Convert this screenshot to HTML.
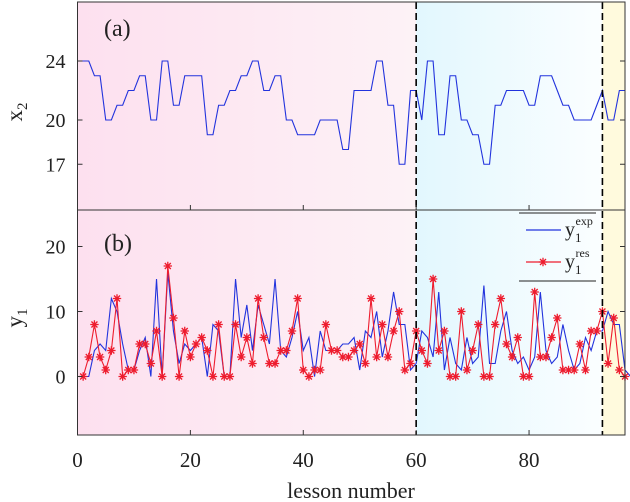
<!DOCTYPE html>
<html><head><meta charset="utf-8"><style>
body{margin:0;background:#fff;}
svg{display:block;}
svg text{font-family:"Liberation Serif","Times New Roman",serif;}
</style></head><body>
<svg id="chart" width="630" height="502" viewBox="0 0 630 502" xmlns="http://www.w3.org/2000/svg">
<defs>
<linearGradient id="gp" x1="0" x2="1" y1="0" y2="0"><stop offset="0" stop-color="#fde0ef"/><stop offset="1" stop-color="#fdf2f6"/></linearGradient>
<linearGradient id="gb" x1="0" x2="1" y1="0" y2="0"><stop offset="0" stop-color="#e2f7fe"/><stop offset="1" stop-color="#fbfeff"/></linearGradient>
</defs>
<g id="bg"></g>
<g id="marks"></g>
<g id="axes"></g>
</svg>
<script>
const xIdxTop = Array.from({length:98},(_, i)=>i);
const x2Values = [24,24,24,23,23,20,20,21,21,22,22,23,23,20,20,24,24,21,21,23,23,23,23,19,19,21,21,22,22,23,23,24,24,22,22,23,23,20,20,19,19,19,19,20,20,20,20,18,18,22,22,22,22,24,24,21,21,17,17,22,22,20,24,24,19,19,23,23,20,20,19,19,17,17,21,21,22,22,22,22,21,21,23,23,23,22,21,21,20,20,20,20,21,22,20,20,22,22];
const yExp = [0,0,4,5,4,12,10,5,1,1,4,6,0,15,0,16,7,2,5,4,5,6,0,8,7,0,0,15,6,11,4,11,8,5,15,4,3,6,10,4,6,0,7,4,4,4,5,5,6,1,7,6,10,3,7,13,8,8,1,2,7,6,3,13,1,6,2,1,6,2,3,14,2,2,7,10,4,2,3,1,3,13,4,2,3,8,4,1,2,6,4,7,7,10,8,8,1,0];
const yRes = [0,3,8,3,1,4,12,0,1,1,5,5,2,7,0,17,9,0,7,3,5,6,4,0,8,0,0,8,3,6,2,12,6,2,2,4,4,7,12,1,0,1,1,8,4,4,3,3,4,5,2,12,3,8,3,7,10,1,2,7,4,2,15,4,7,0,0,10,1,4,8,0,0,8,12,5,3,6,0,0,13,3,3,6,9,1,1,1,5,1,7,7,10,2,9,1,0];
const xTicks = [0,20,40,60,80];
const topTicks = [17,20,24];
const botTicks = [0,10,20];
const regionBounds = [60,93];

const L=77.5,R=625,XMAX=97;
const sx=v=>L+(R-L)*v/XMAX;
const T0=2,T1=210,B0=210,B1=435;
const syT=v=>120-(v-20)*14.75;
const syB=v=>376.5-v*6.5;
const NS="http://www.w3.org/2000/svg";
const FF='"Liberation Serif", serif';
function mk(tag,attrs,parent,name){const e=document.createElementNS(NS,tag);for(const k in attrs)e.setAttribute(k,attrs[k]);parent.appendChild(e);


return e;}
const bg=document.getElementById('bg'),mg=document.getElementById('marks'),ax=document.getElementById('axes');
mk('rect',{x:L,y:T0,width:sx(regionBounds[0])-L,height:B1-T0,fill:'url(#gp)'},bg,'region-pink');
mk('rect',{x:sx(regionBounds[0]),y:T0,width:sx(regionBounds[1])-sx(regionBounds[0]),height:B1-T0,fill:'url(#gb)'},bg,'region-blue');
mk('rect',{x:sx(regionBounds[1]),y:T0,width:R-sx(regionBounds[1]),height:B1-T0,fill:'#fffadd'},bg,'region-yellow');
mk('polyline',{points:x2Values.map((v,i)=>sx(xIdxTop[i])+','+syT(v)).join(' '),fill:'none',stroke:'#2233dd','stroke-width':1.1},mg,'x2-line');
mk('polyline',{points:yExp.map((v,i)=>sx(i+1)+','+syB(v)).join(' '),fill:'none',stroke:'#2233dd','stroke-width':1.1},mg,'y1-exp-line');
mk('polyline',{points:yRes.map((v,i)=>sx(i+1)+','+syB(v)).join(' '),fill:'none',stroke:'#ee1c2e','stroke-width':1.1},mg,'y1-res-line');
function star(cx,cy,g,name){const r=4.2,d=3;
const p=`M${cx-r},${cy}L${cx+r},${cy}M${cx},${cy-r}L${cx},${cy+r}M${cx-d},${cy-d}L${cx+d},${cy+d}M${cx-d},${cy+d}L${cx+d},${cy-d}`;
mk('path',{d:p,stroke:'#ee1c2e','stroke-width':1.3,fill:'none'},g,name);}
yRes.forEach((v,i)=>star(sx(i+1),syB(v),mg,'y1-res-marker'));
regionBounds.forEach(b=>mk('line',{x1:sx(b),x2:sx(b),y1:T0,y2:B1,stroke:'#000','stroke-width':1.6,'stroke-dasharray':'7,4'},ax,'region-divider'));
mk('rect',{x:L,y:T0,width:R-L,height:T1-T0,fill:'none',stroke:'#333','stroke-width':1},ax,'top-frame');
mk('rect',{x:L,y:B0,width:R-L,height:B1-B0,fill:'none',stroke:'#333','stroke-width':1},ax,'bottom-frame');
function txt(x,y,s,size,name,anchor){const t=mk('text',{x:x,y:y,'font-size':size,'text-anchor':anchor||'middle',fill:'#222','font-family':FF},ax,name);t.textContent=s;return t;}
topTicks.forEach(v=>{const y=syT(v);mk('line',{x1:L,x2:L+5,y1:y,y2:y,stroke:'#333'},ax,'top-y-tick');mk('line',{x1:R-5,x2:R,y1:y,y2:y,stroke:'#333'},ax,'top-y-tick-right');txt(L-12,y+7,String(v),20,'top-y-tick-label','end');});
botTicks.forEach(v=>{const y=syB(v);mk('line',{x1:L,x2:L+5,y1:y,y2:y,stroke:'#333'},ax,'bottom-y-tick');mk('line',{x1:R-5,x2:R,y1:y,y2:y,stroke:'#333'},ax,'bottom-y-tick-right');txt(L-12,y+7,String(v),20,'bottom-y-tick-label','end');});
xTicks.forEach(v=>{const x=sx(v);mk('line',{x1:x,x2:x,y1:B1,y2:B1-5,stroke:'#333'},ax,'x-tick');mk('line',{x1:x,x2:x,y1:T1,y2:T1-5,stroke:'#333'},ax,'x-tick-top');txt(x,467,String(v),21,'x-tick-label');});
txt(351,498,'lesson number',22,'x-axis-title');
txt(104,36,'(a)',24,'panel-a-label','start');
txt(104,251,'(b)',24,'panel-b-label','start');
const yl1=txt(0,0,'',23,'top-y-axis-title');yl1.setAttribute('transform','translate(22,112) rotate(-90)');yl1.innerHTML='x<tspan font-size="15" dy="5">2</tspan>';
const yl2=txt(0,0,'',23,'bottom-y-axis-title');yl2.setAttribute('transform','translate(22,318) rotate(-90)');yl2.innerHTML='y<tspan font-size="15" dy="5">1</tspan>';
const lg=mk('g',{},ax,'legend');
mk('line',{x1:519,x2:596,y1:213,y2:213,stroke:'#222'},lg,'legend-top-rule');
mk('line',{x1:519,x2:596,y1:281,y2:281,stroke:'#222'},lg,'legend-bottom-rule');
mk('line',{x1:526,x2:561,y1:230,y2:230,stroke:'#2233dd','stroke-width':1.2},lg,'legend-exp-line');
mk('line',{x1:526,x2:561,y1:262,y2:262,stroke:'#ee1c2e','stroke-width':1.2},lg,'legend-res-line');
star(543,262,lg,'legend-res-marker');
const l1=mk('text',{x:565,y:236,'font-size':20,fill:'#222','font-family':FF},lg,'legend-exp-label');l1.innerHTML='y<tspan font-size="13" dy="6">1</tspan><tspan font-size="12" dx="-6" dy="-17">exp</tspan>';
const l2=mk('text',{x:565,y:268,'font-size':20,fill:'#222','font-family':FF},lg,'legend-res-label');l2.innerHTML='y<tspan font-size="13" dy="6">1</tspan><tspan font-size="12" dx="-6" dy="-17">res</tspan>';
</script>
</body></html>
